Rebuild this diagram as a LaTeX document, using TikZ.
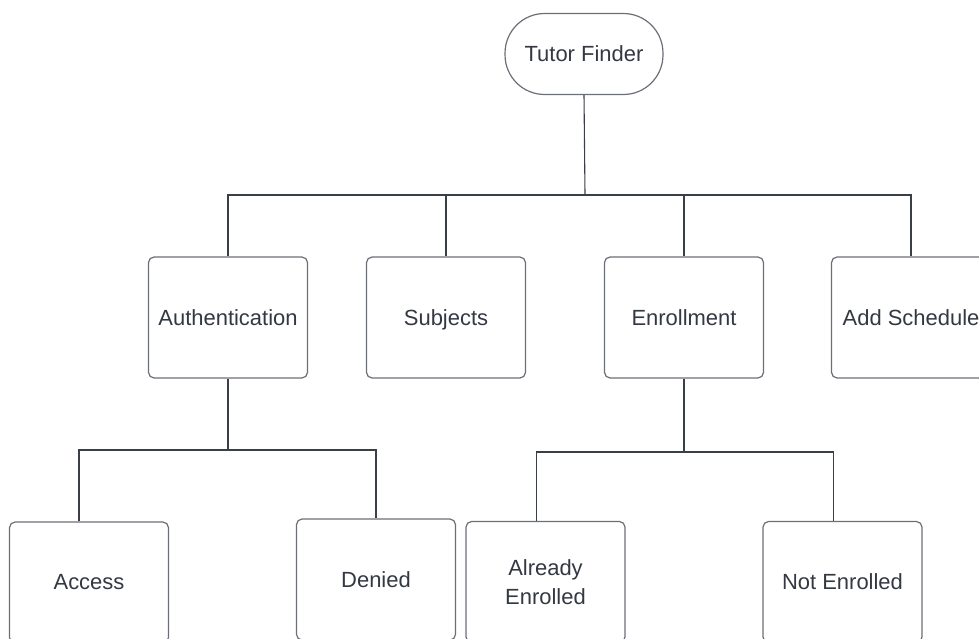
\documentclass[tikz,border=0pt]{standalone}
\usepackage{fontspec}
\setmainfont{Liberation Sans}
\usepackage{tikz}
\usetikzlibrary{positioning,calc}
\definecolor{boxline}{HTML}{6B6F76}
\definecolor{wireline}{HTML}{3A3E45}
\definecolor{labeltext}{HTML}{333842}

\begin{document}
\begin{tikzpicture}[x=0.016cm,y=-0.016cm,
	box/.style={draw=boxline,line width=0.55pt,rounded corners=2.5pt,minimum width=2.544cm,minimum height=1.936cm,inner sep=0pt,text=labeltext,align=center,font=\fontsize{10}{13}\selectfont},
	rootbox/.style={box,rounded corners=18pt,minimum width=2.528cm,minimum height=1.296cm},
	wire/.style={draw=wireline,line width=0.5pt}]
	\useasboundingbox (0,0) rectangle (979,638);
	\clip (0,0) rectangle (979,638);
	% top node
	\node[rootbox] (finder) at (584,54) {Tutor Finder};
	% second level
	\node[box] (auth) at (228,317.5) {Authentication};
	\node[box,text depth=0pt] (subj) at (446,317.5) {Subjects};
	\node[box] (enrol) at (684,317.5) {Enrollment};
	\node[box] (sched) at (911,317.5) {Add Schedule};
	% third level
	\node[box] (access) at (89,582.5) {Access};
	\node[box] (denied) at (376,579.5) {Denied};
	\node[box] (already) at (545.5,582) {Already\\Enrolled};
	\node[box] (notenrol) at (842.5,582) {Not Enrolled};
	% bus points
	\coordinate (finderBus) at (585,195);
	\coordinate (authBus) at (228,450);
	\coordinate (enrolBus) at (684,452);
	% connectors
	\draw[wire] (finder.south) -- (finderBus);
	\draw[wire] (auth.north) |- (finderBus) -| (sched.north);
	\draw[wire] (subj.north) -- (subj.north |- finderBus);
	\draw[wire] (enrol.north) -- (enrol.north |- finderBus);
	\draw[wire] (auth.south) -- (authBus);
	\draw[wire] ([xshift=-0.16cm]access.north) |- (authBus) -| (denied.north);
	\draw[wire] (enrol.south) -- (enrolBus);
	\draw[wire] ([xshift=-0.15cm]already.north) |- (enrolBus) -| ([xshift=-0.15cm]notenrol.north);
\end{tikzpicture}
\end{document}
